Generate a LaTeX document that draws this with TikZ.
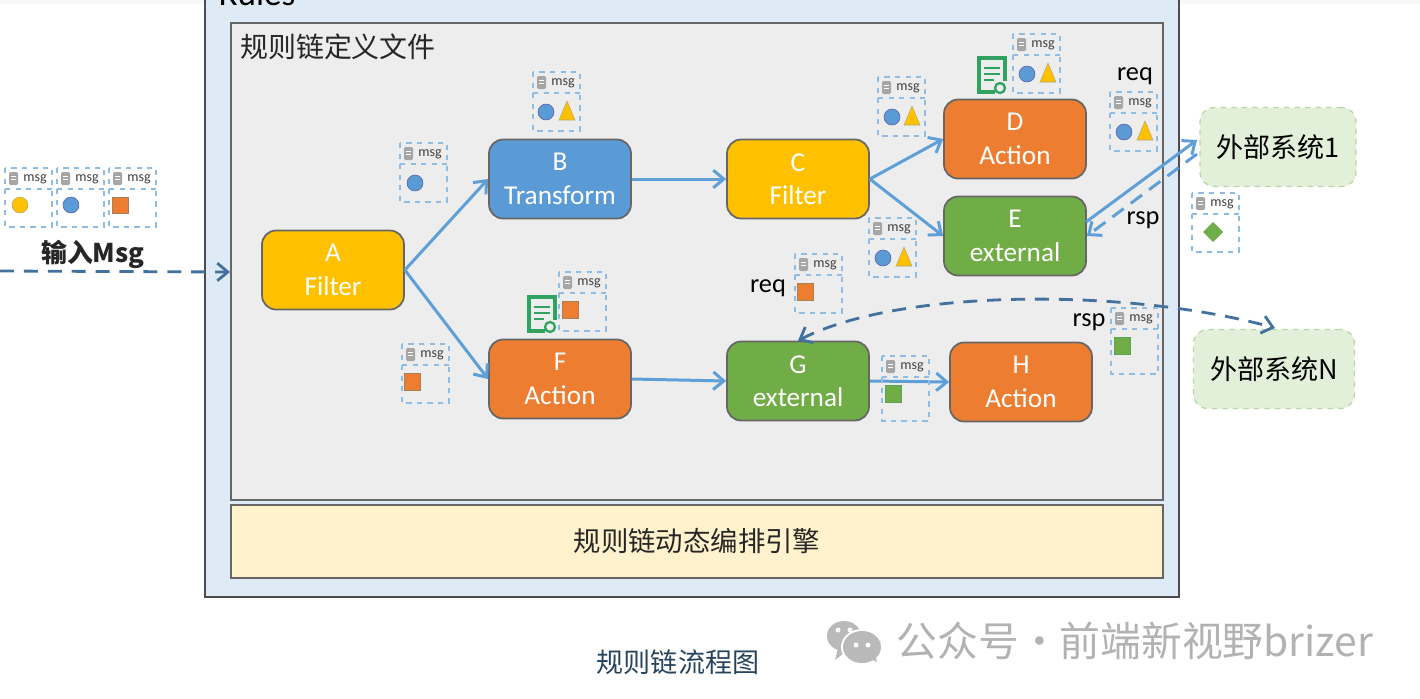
\documentclass[tikz,border=0pt]{standalone}
\usepackage{fontspec}
\setmainfont{Carlito}
\newfontfamily\cjk{Noto Sans CJK SC}
\usetikzlibrary{arrows.meta,shapes.geometric}

\definecolor{ruleblue}{HTML}{5B9BD5}
\definecolor{ruleyellow}{HTML}{FFC000}
\definecolor{ruleorange}{HTML}{ED7D31}
\definecolor{rulegreen}{HTML}{70AD47}
\definecolor{flowblue}{HTML}{5F9FD8}
\definecolor{dashblue}{HTML}{41719C}
\definecolor{extgreen}{HTML}{E2F0D9}
\definecolor{docgreen}{HTML}{2FA35F}
\definecolor{outerfill}{HTML}{DEEAF6}
\definecolor{innerfill}{HTML}{EDEDED}
\definecolor{enginefill}{HTML}{FFF2CC}

\tikzset{
    rulebox/.style={draw=gray!80!black, line width=1pt, rounded corners=8pt, text=white, align=center,
        minimum width=2.84cm, minimum height=1.58cm, inner sep=0pt, font=\fontsize{15.5}{19}\selectfont},
    extbox/.style={draw=rulegreen!50, dashed, line width=0.7pt, fill=extgreen, rounded corners=8pt,
        minimum height=1.58cm, inner sep=0pt, font=\cjk\fontsize{15.4}{18}\selectfont},
    flow/.style={draw=flowblue, line width=1.7pt, -{Straight Barb[length=6pt,width=10pt]}},
    dashflow/.style={draw=dashblue, line width=1.6pt, dash pattern=on 8pt off 5.6pt},
    pkt/.style={draw=flowblue!70, dashed, line width=0.7pt},
    tag/.style={font=\fontsize{15}{17}\selectfont, inner sep=0pt}
}

% one msg packet, #1 box height, #2 name, #3 #4 top left corner, #5 what it carries
\newcommand{\msgbox}[5][59]{
    \begin{scope}[shift={(#3,#4)}]
        \draw[pkt] (0,0) rectangle (47,#1);
        \draw[pkt] (0,21) -- (47,21);
        \fill[gray!70, rounded corners=0.8pt] (4,4) rectangle (13,17);
        \draw[white, line width=0.3pt] (6,8) -- (11,8) (6,11) -- (11,11);
        \node[font=\fontsize{8}{9}\selectfont, text=black!75, inner sep=0pt] (#2) at (30,11) {msg};
        #5
    \end{scope}
}
\newcommand{\bluedot}[1]{\fill[ruleblue, draw=gray!70!blue, line width=0.3pt] (#1,40) circle (8);}
\newcommand{\yellowtri}[1]{\fill[ruleyellow, draw=gray!70!yellow, line width=0.3pt] (#1-8,48) -- (#1,29) -- (#1+8,48) -- cycle;}
\newcommand{\orangebit}[1]{\fill[ruleorange, draw=gray!70!orange, line width=0.3pt] (#1-8,29) rectangle (#1+8,46);}
\newcommand{\greenbit}[1]{\fill[rulegreen, draw=gray!70!green, line width=0.3pt] (#1-8,29) rectangle (#1+8,46);}

% the green document with a clock
\newcommand{\docicon}[2]{
    \begin{scope}[shift={(#1,#2)}]
        \draw[docgreen, line width=2pt] (27,24) -- (27,1) -- (1,1) -- (1,35) -- (17,35);
        \draw[docgreen, line width=1.3pt] (6,11) -- (22,11) (6,17) -- (22,17) (6,23) -- (16,23);
        \draw[docgreen, line width=1.3pt, fill=innerfill] (22,31) circle (5);
    \end{scope}
}

\begin{document}
\begin{tikzpicture}[x=0.02cm, y=-0.02cm]
    \useasboundingbox (0,0) rectangle (1420,698);

    % Frames
    \fill[gray!6] (0,0) rectangle (1420,4);
    \draw[black!70, line width=1.2pt, fill=outerfill] (205,-8) rectangle (1179,597);
    \node[font=\fontsize{20}{22}\selectfont, inner sep=0pt, anchor=base] (rules) at (257,5) {Rules};
    \draw[gray!80!black, line width=0.9pt, fill=innerfill] (231,23) rectangle (1163,500);
    \draw[gray!80!black, line width=0.9pt, fill=enginefill] (231,505) rectangle (1163,578);
    \node[font=\cjk\fontsize{15.9}{18}\selectfont, text=black!85, inner sep=0pt] (deftitle) at (338,47) {规则链定义文件};
    \node[font=\cjk\fontsize{15.6}{18}\selectfont, text=black!85, inner sep=0pt] (engine) at (697,541) {规则链动态编排引擎};

    % Rule nodes
    \node[rulebox, fill=ruleyellow] (A) at (333,270) {A\\Filter};
    \node[rulebox, fill=ruleblue] (B) at (560,179) {B\\Transform};
    \node[rulebox, fill=ruleyellow] (C) at (798,179) {C\\Filter};
    \node[rulebox, fill=ruleorange] (D) at (1015,139) {D\\Action};
    \node[rulebox, fill=rulegreen] (E) at (1015,236) {E\\external};
    \node[rulebox, fill=ruleorange] (F) at (560,379) {F\\Action};
    \node[rulebox, fill=rulegreen] (G) at (798,381) {G\\external};
    \node[rulebox, fill=ruleorange] (H) at (1021,382) {H\\Action};
    \node[extbox, minimum width=3.12cm] (ext1) at (1278,147) {外部系统1};
    \node[extbox, minimum width=3.22cm] (extN) at (1274,369) {外部系统N};

    % Connectors
    \draw[flow] (A.east) -- (B.west);
    \draw[flow] (A.east) -- (F.west);
    \draw[flow] (B.east) -- (C.west);
    \draw[flow] (C.east) -- (D.west);
    \draw[flow] (C.east) -- (E.west);
    \draw[flow] (F.east) -- (G.west);
    \draw[flow] (G.east) -- (H.west);
    \coordinate (reqfrom) at (1086,222);
    \coordinate (reqto) at (1197,140);
    \coordinate (rspfrom) at (1197,154);
    \draw[flow] (reqfrom) -- (reqto);
    \draw[flow, dash pattern=on 8pt off 5pt] (rspfrom) -- (E.east);
    \coordinate (msgin) at (0,271);
    \coordinate (msgend) at (230,272);
    \draw[dashflow, -{Straight Barb[length=6pt,width=10pt]}] (msgin) -- (msgend);
    \coordinate (calltop) at (1275,328);
    \draw[dashflow, {Straight Barb[length=6pt,width=10pt]}-{Straight Barb[length=6pt,width=10pt]}] (G.north) .. controls (900,288) and (1130,288) .. (calltop);

    % Packets
    \msgbox{in1}{5}{168}{\fill[ruleyellow, draw=gray!70!yellow, line width=0.3pt] (15,37) circle (8);}
    \msgbox{in2}{57}{168}{\fill[ruleblue, draw=gray!70!blue, line width=0.3pt] (14,37) circle (8);}
    \msgbox{in3}{109}{168}{\fill[ruleorange, draw=gray!70!orange, line width=0.3pt] (3,29) rectangle (19,45);}
    \msgbox{ab}{400}{143}{\bluedot{15}}
    \msgbox{bc}{533}{72}{\bluedot{13}\yellowtri{34}}
    \msgbox{cd}{878}{77}{\bluedot{14}\yellowtri{34}}
    \msgbox{ce}{869}{218}{\bluedot{14}\yellowtri{35}}
    \msgbox{dd}{1013}{34}{\bluedot{14}\yellowtri{35}}
    \msgbox{rq}{1110}{92}{\bluedot{14}\yellowtri{35}}
    \msgbox{af}{402}{344}{\orangebit{10}}
    \msgbox{ff}{559}{272}{\orangebit{11}}
    \msgbox{gq}{795}{254}{\orangebit{10}}
    \msgbox[65]{gh}{882}{356}{\greenbit{11}}
    \msgbox[66]{rs}{1111}{308}{\greenbit{11}}
    \msgbox{ex}{1192}{193}{\fill[rulegreen] (21,29) -- (31,39) -- (21,49) -- (11,39) -- cycle;}
    \docicon{978}{57}
    \docicon{528}{296}

    % Labels
    \node[font=\cjk\bfseries\fontsize{14.7}{16}\selectfont, text=black!85, inner sep=0pt] (inlabel) at (93,254) {输入Msg};
    \node[tag] (req1) at (1135,76) {req};
    \node[tag] (rsp1) at (1143,220) {rsp};
    \node[tag] (req2) at (768,288) {req};
    \node[tag] (rsp2) at (1089,322) {rsp};
    \node[font=\cjk\fontsize{15.4}{17}\selectfont, text=dashblue!60!black, inner sep=0pt] (caption) at (678,662) {规则链流程图};

    % Watermark
    \fill[gray!55] (844,636) ellipse (17 and 15);
    \fill[gray!55] (838,648) -- (835,660) -- (848,650) -- cycle;
    \fill[white] (862,647) ellipse (21 and 18);
    \fill[gray!55] (862,647) ellipse (19 and 16);
    \fill[gray!55] (868,658) -- (877,662) -- (874,650) -- cycle;
    \fill[white] (838,630) circle (2.5) (850,630) circle (2.5) (856,645) circle (2.5) (868,645) circle (2.5);
    \node[font=\cjk\fontsize{23.2}{25}\selectfont, text=gray!60, inner sep=0pt] (mark) at (1135,641) {公众号·前端新视野brizer};
\end{tikzpicture}
\end{document}
